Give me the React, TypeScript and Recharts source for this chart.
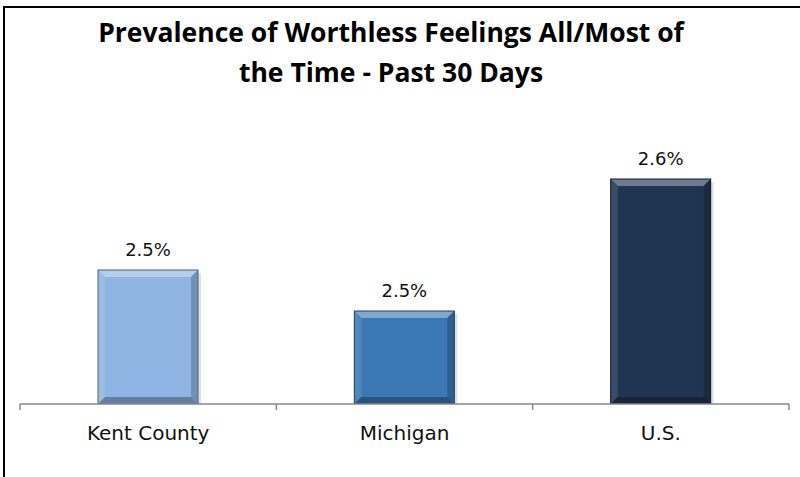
import React from "react";
import { BarChart, Bar, XAxis, YAxis, LabelList, Cell } from "recharts";

const categories = ["Kent County", "Michigan", "U.S."];
const values = [2.494, 2.453, 2.585];
const colors = ["#8DB4E2", "#3B77B3", "#1F3551"];
const titleLines = ["Prevalence of Worthless Feelings All/Most of", "the Time - Past 30 Days"];

const data = categories.map((c, i) => ({ name: c, value: values[i], color: colors[i] }));

function shade(hex: string, f: number) {
  const n = parseInt(hex.slice(1), 16);
  let r = (n >> 16) & 255, g = (n >> 8) & 255, b = n & 255;
  const m = (v: number) => Math.max(0, Math.min(255, Math.round(f > 0 ? v + (255 - v) * f : v * (1 + f))));
  return `rgb(${m(r)},${m(g)},${m(b)})`;
}

const BevelBar = (props: any) => {
  const { x, y, width, height, fill } = props;
  const s = 7;
  return (
    <g>
      <rect x={x + 3} y={y + 3} width={width} height={height - 3} fill="rgba(0,0,0,0.12)" />
      <rect x={x} y={y} width={width} height={height} fill={fill} />
      <polygon points={`${x},${y} ${x + width},${y} ${x + width - s},${y + s} ${x + s},${y + s}`} fill={shade(fill, 0.35)} />
      <polygon points={`${x},${y} ${x + s},${y + s} ${x + s},${y + height - s} ${x},${y + height}`} fill={shade(fill, 0.12)} />
      <polygon points={`${x + width},${y} ${x + width},${y + height} ${x + width - s},${y + height - s} ${x + width - s},${y + s}`} fill={shade(fill, -0.2)} />
      <polygon points={`${x},${y + height} ${x + s},${y + height - s} ${x + width - s},${y + height - s} ${x + width},${y + height}`} fill={shade(fill, -0.3)} />
      <rect x={x} y={y} width={width} height={height} fill="none" stroke={shade(fill, -0.45)} strokeWidth={1} />
    </g>
  );
};

const CatTick = (props: any) => {
  const { x, y, payload, index, width } = props;
  const band = width / categories.length;
  const left = x - band / 2;
  const right = x + band / 2;
  return (
    <g>
      {index === 0 && <line x1={left} y1={y - 8} x2={left} y2={y - 2} stroke="#888" strokeWidth={1.5} />}
      <line x1={right} y1={y - 8} x2={right} y2={y - 2} stroke="#888" strokeWidth={1.5} />
      <text x={x} y={y + 28} textAnchor="middle" fontFamily="'DejaVu Sans', sans-serif" fontSize={20} fill="#111">
        {payload.value}
      </text>
    </g>
  );
};

export default function App() {
  return (
    <div style={{ position: "absolute", left: 0, top: 0, width: 800, height: 477, background: "#fff", overflow: "hidden" }}>
      <div style={{ position: "absolute", left: 0, top: 0 }}>
        <BarChart width={800} height={477} data={data} margin={{ top: 130, right: 11, bottom: 33, left: 20 }} barSize={100}>
          <YAxis hide domain={[2.36, 2.634]} allowDataOverflow />
          <XAxis dataKey="name" height={40} axisLine={{ stroke: "#888", strokeWidth: 1.5 }} tickLine={false} tick={<CatTick />} interval={0} />
          <Bar dataKey="value" isAnimationActive={false} shape={<BevelBar />}>
            {data.map((d, i) => (
              <Cell key={i} fill={d.color} />
            ))}
            <LabelList dataKey="value" position="top" offset={14} formatter={(v: any) => `${Number(v).toFixed(1)}%`} style={{ fontFamily: "'DejaVu Sans', sans-serif", fontSize: 18, fill: "#111" }} />
          </Bar>
        </BarChart>
      </div>
      {titleLines.map((t, i) => (
        <div key={i} style={{ position: "absolute", left: 0, width: 782, top: 15 + i * 40, textAlign: "center", fontFamily: "'Open Sans', sans-serif", fontWeight: 700, fontSize: 26.5, lineHeight: "34px", color: "#000", whiteSpace: "nowrap" }}>
          {t}
        </div>
      ))}
      <div style={{ position: "absolute", left: 3, top: 6, width: 797, height: 2, background: "#000", zIndex: 5 }} />
      <div style={{ position: "absolute", left: 3, top: 6, width: 2, height: 471, background: "#000", zIndex: 5 }} />
    </div>
  );
}
